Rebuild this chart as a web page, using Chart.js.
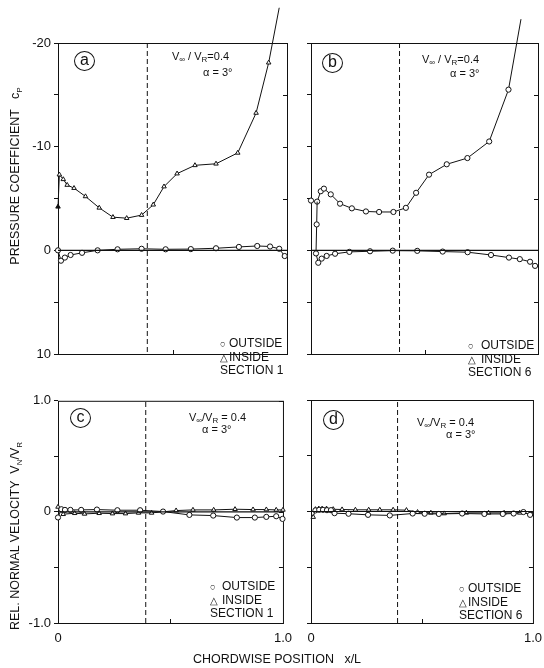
<!DOCTYPE html>
<html lang="en">
<head>
<meta charset="UTF-8">
<title>Pressure coefficient and normal velocity</title>
<script src="https://cdn.jsdelivr.net/npm/chart.js"></script>
<style>
    *{ margin:0; padding:0; }
    body{ width:544px; height:668px; background:#fff; position:relative; overflow:hidden;
          font-family:'Liberation Sans', Arial, sans-serif; color:#111; }
    canvas{ position:absolute; }
    .txt{ position:absolute; white-space:nowrap; font-size:12px; line-height:12.5px; }
    .txt sub{ font-size:8px; vertical-align:-2px; }
    .circ{ position:absolute; width:19px; height:18px; border:1.5px solid #111; border-radius:50%;
           text-align:center; font-size:16px; line-height:16px; }
    .sym{ display:inline-block; width:9px; font-size:9.5px; }
    .rot{ position:absolute; white-space:nowrap; font-size:12.5px; transform:translate(-50%,-50%) rotate(-90deg); }
    .rot sub{ font-size:8px; }
</style>
</head>
<body>
<canvas id="ca" width="300" height="390" style="left:0;top:0"></canvas>
<canvas id="cb" width="259" height="390" style="left:291px;top:0"></canvas>
<canvas id="cc" width="300" height="265" style="left:0;top:390px"></canvas>
<canvas id="cd" width="259" height="265" style="left:291px;top:390px"></canvas>

<div class="circ" style="left:74px;top:51px">a</div>
<div class="circ" style="left:322px;top:53px">b</div>
<div class="circ" style="left:70px;top:408px">c</div>
<div class="circ" style="left:323px;top:410px">d</div>

<div class="txt" style="left:172px;top:50px;font-size:11px">V<sub>∞</sub> / V<sub>R</sub>=0.4</div>
<div class="txt" style="left:203px;top:66px;font-size:11px">α = 3°</div>
<div class="txt" style="left:422px;top:53px;font-size:11px">V<sub>∞</sub> / V<sub>R</sub>=0.4</div>
<div class="txt" style="left:450px;top:67px;font-size:11px">α = 3°</div>
<div class="txt" style="left:189px;top:411px;font-size:11px">V<sub>∞</sub>/V<sub>R</sub> = 0.4</div>
<div class="txt" style="left:202px;top:423px;font-size:11px">α = 3°</div>
<div class="txt" style="left:417px;top:416px;font-size:11px">V<sub>∞</sub>/V<sub>R</sub> = 0.4</div>
<div class="txt" style="left:446px;top:428px;font-size:11px">α = 3°</div>

<div class="txt" style="left:220px;top:337px"><span class="sym">○</span>OUTSIDE<br><span class="sym">△</span>INSIDE<br>SECTION 1</div>
<div class="txt" style="left:468px;top:339px"><span class="sym" style="width:13px">○</span>OUTSIDE<br><span class="sym" style="width:13px">△</span>INSIDE<br>SECTION 6</div>
<div class="txt" style="left:210px;top:580px"><span class="sym" style="width:12px">○</span>OUTSIDE<br><span class="sym" style="width:12px">△</span>INSIDE<br>SECTION 1</div>
<div class="txt" style="left:459px;top:582px"><span class="sym" style="width:9px">○</span>OUTSIDE<br><span class="sym" style="width:9px">△</span>INSIDE<br>SECTION 6</div>

<div class="rot" style="left:16px;top:176px">PRESSURE COEFFICIENT &nbsp; c<sub>P</sub></div>
<div class="rot" style="left:16px;top:536px">REL. NORMAL VELOCITY &nbsp;V<sub>N</sub>/V<sub>R</sub></div>
<div class="txt" style="left:193px;top:653px;font-size:12.5px">CHORDWISE POSITION &nbsp; x/L</div>

<script>
    // section 1, pressure coefficient
    const xA_in = [0, 0.006, 0.023, 0.04, 0.07, 0.12, 0.18, 0.24, 0.30, 0.365, 0.416, 0.463, 0.52, 0.598, 0.69, 0.785, 0.865, 0.92, 0.966]
    const cpA_in = [-4.2, -7.3, -6.85, -6.3, -6.0, -5.2, -4.1, -3.2, -3.1, -3.4, -4.4, -6.15, -7.4, -8.2, -8.35, -9.4, -13.25, -18.1, -23.4]
    const xA_out = [0, 0.013, 0.03, 0.055, 0.105, 0.173, 0.26, 0.365, 0.47, 0.58, 0.69, 0.79, 0.87, 0.926, 0.966, 0.99]
    const cpA_out = [0, 1.0, 0.7, 0.45, 0.24, 0, -0.1, -0.15, -0.1, -0.12, -0.2, -0.33, -0.42, -0.37, -0.15, 0.55]

    // section 6, pressure coefficient
    const xB_up = [0, 0.027, 0.043, 0.057, 0.087, 0.128, 0.18, 0.242, 0.30, 0.363, 0.418, 0.463, 0.52, 0.598, 0.689, 0.785, 0.87, 0.925]
    const cpB_up = [-4.8, -4.7, -5.7, -5.95, -5.4, -4.5, -4.05, -3.75, -3.7, -3.7, -4.1, -5.55, -7.3, -8.3, -8.9, -10.5, -15.5, -22.3]
    const xB_low = [0.027, 0.025, 0.022, 0.032, 0.047, 0.069, 0.106, 0.169, 0.26, 0.36, 0.468, 0.58, 0.69, 0.793, 0.872, 0.92, 0.965, 0.987]
    const cpB_low = [-4.7, -2.5, 0.3, 1.2, 0.8, 0.54, 0.33, 0.15, 0.09, 0.03, 0.05, 0.12, 0.18, 0.45, 0.7, 0.85, 1.1, 1.5]

    // section 1, normal velocity
    const xC_out = [0, 0.015, 0.031, 0.055, 0.103, 0.173, 0.264, 0.365, 0.467, 0.584, 0.69, 0.795, 0.875, 0.926, 0.97, 0.998]
    const vC_out = [-0.05, 0.024, 0.018, 0.018, 0.018, 0.021, 0.015, 0.015, 0.003, -0.027, -0.033, -0.051, -0.051, -0.045, -0.039, -0.063]
    const xC_in = [0, 0.023, 0.074, 0.118, 0.183, 0.242, 0.3, 0.358, 0.416, 0.525, 0.6, 0.692, 0.787, 0.867, 0.926, 0.97, 1.0]
    const vC_in = [0.045, -0.021, -0.012, -0.018, -0.012, -0.015, -0.015, -0.009, -0.009, 0.012, 0.018, 0.018, 0.024, 0.021, 0.021, 0.018, 0.018]

    // section 6, normal velocity
    const xD_out = [0.02, 0.037, 0.054, 0.072, 0.09, 0.106, 0.169, 0.257, 0.355, 0.458, 0.512, 0.576, 0.681, 0.781, 0.864, 0.913, 0.957, 0.987]
    const vD_out = [0.01, 0.015, 0.015, 0.012, 0.012, -0.015, -0.02, -0.03, -0.035, -0.018, -0.02, -0.022, -0.018, -0.022, -0.022, -0.018, -0.005, -0.03]
    const xD_in = [0.01, 0.02, 0.035, 0.05, 0.07, 0.1, 0.14, 0.2, 0.26, 0.31, 0.37, 0.43, 0.48, 0.54, 0.6, 0.7, 0.8, 0.87, 0.94, 0.99]
    const vD_in = [-0.05, 0.02, 0.025, 0.025, 0.025, 0.02, 0.018, 0.015, 0.015, 0.015, 0.015, 0.012, -0.006, -0.012, -0.018, -0.012, -0.012, -0.012, -0.012, -0.02]

    const dashX = 0.39   // dashed vertical marker
    const cpRange = [-20, 10]
    const vRange = [-1, 1]

    Chart.defaults.font.family = "'Liberation Sans', Arial, sans-serif"
    Chart.defaults.font.size = 13
    Chart.defaults.color = '#111'

    function pts(xs, ys){
        return xs.map((x, i) => ({x: x, y: ys[i]}))
    }

    function series(xs, ys, style, extra){
        return Object.assign({
            data: pts(xs, ys),
            showLine: true,
            borderColor: '#111',
            borderWidth: 1,
            pointStyle: style,
            pointRadius: 2.6,
            pointBackgroundColor: '#fff',
            pointBorderColor: '#111',
            pointBorderWidth: 1,
            clip: false
        }, extra || {})
    }

    function refLines(range){
        return [
            {data: [{x: 0, y: 0}, {x: 1, y: 0}], showLine: true, borderColor: '#111', borderWidth: 1.2, pointRadius: 0},
            {data: [{x: dashX, y: range[0]}, {x: dashX, y: range[1]}], showLine: true, borderColor: '#111',
             borderWidth: 1, borderDash: [5, 3], pointRadius: 0}
        ]
    }

    const frame = {
        id: 'frame',
        beforeDatasetsDraw(chart){
            const {ctx, chartArea: a, scales} = chart
            ctx.save()
            ctx.strokeStyle = '#111'
            ctx.lineWidth = 1
            ctx.strokeRect(a.left + 0.5, a.top + 0.5, a.right - a.left, a.bottom - a.top)
            scales.y.ticks.forEach(t => {
                const py = Math.round(scales.y.getPixelForValue(t.value)) + 0.5
                ctx.beginPath(); ctx.moveTo(a.right, py); ctx.lineTo(a.right - 4, py); ctx.stroke()
            })
            const px = Math.round(scales.x.getPixelForValue(0.5)) + 0.5
            ctx.beginPath(); ctx.moveTo(px, a.bottom); ctx.lineTo(px, a.bottom - 4); ctx.stroke()
            ctx.restore()
        }
    }

    function makeChart(id, datasets, o){
        const yScale = {
            type: 'linear', min: o.range[0], max: o.range[1], reverse: o.reverse,
            afterFit: s => { s.width = o.yWidth },
            afterBuildTicks: s => { s.ticks = o.yTicks.map(v => ({value: v})) },
            ticks: {display: o.yLabels, padding: 3, autoSkip: false,
                    callback: v => o.labelled.includes(v) ? o.fmt(v) : ''},
            grid: {drawOnChartArea: false, tickLength: 4, tickColor: '#111'},
            border: {display: false}
        }
        const xScale = {
            type: 'linear', min: 0, max: 1, display: o.xLabels,
            afterFit: s => { s.height = 22 },
            afterBuildTicks: s => { s.ticks = [{value: 0}, {value: 1}] },
            ticks: {padding: 8, callback: v => v === 0 ? '0' : '1.0'},
            grid: {display: false, drawTicks: false},
            border: {display: false}
        }
        return new Chart(document.getElementById(id), {
            type: 'scatter',
            data: {datasets: datasets},
            options: {
                responsive: false,
                animation: false,
                layout: {padding: o.pad},
                plugins: {legend: {display: false}, tooltip: {enabled: false}},
                scales: {x: xScale, y: yScale}
            },
            plugins: [frame]
        })
    }

    const cpTicks = [-20, -15, -10, -5, 0, 5, 10]
    const vTicks = [-1, -0.5, 0, 0.5, 1]
    const cpFmt = v => String(v)
    const vFmt = v => v === 0 ? '0' : v.toFixed(1)

    makeChart('ca', [
        ...refLines(cpRange),
        series(xA_out, cpA_out, 'circle'),
        series(xA_in, cpA_in, 'triangle', {pointBackgroundColor: c => c.dataIndex === 0 ? '#111' : '#fff'})
    ], {range: cpRange, reverse: true, yWidth: 58, yTicks: cpTicks, labelled: [-20, -10, 0, 10], fmt: cpFmt,
        yLabels: true, xLabels: false, pad: {top: 43, right: 13, bottom: 14, left: 0}})

    makeChart('cb', [
        ...refLines(cpRange),
        series(xB_low, cpB_low, 'circle', {pointRadius: c => c.dataIndex === 0 ? 0 : 2.6}),
        series(xB_up, cpB_up, 'circle')
    ], {range: cpRange, reverse: true, yWidth: 20, yTicks: cpTicks, labelled: [], fmt: cpFmt,
        yLabels: false, xLabels: false, pad: {top: 43, right: 12, bottom: 14, left: 0}})

    makeChart('cc', [
        ...refLines(vRange),
        series(xC_out, vC_out, 'circle'),
        series(xC_in, vC_in, 'triangle')
    ], {range: vRange, reverse: false, yWidth: 58, yTicks: vTicks, labelled: [-1, 0, 1], fmt: vFmt,
        yLabels: true, xLabels: true, pad: {top: 10, right: 13, bottom: 10, left: 0}})

    makeChart('cd', [
        ...refLines(vRange),
        series(xD_out, vD_out, 'circle'),
        series(xD_in, vD_in, 'triangle')
    ], {range: vRange, reverse: false, yWidth: 20, yTicks: vTicks, labelled: [], fmt: vFmt,
        yLabels: false, xLabels: true, pad: {top: 10, right: 12, bottom: 10, left: 0}})
</script>
</body>
</html>
